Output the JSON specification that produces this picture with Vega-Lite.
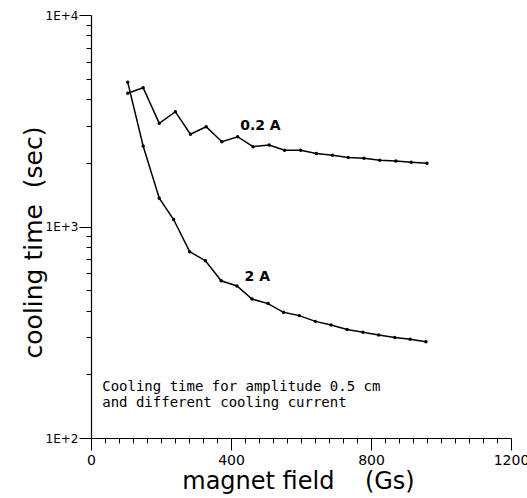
{
  "$schema": "https://vega.github.io/schema/vega-lite/v6.json",
  "width": 420,
  "height": 423,
  "autosize": {"type": "none"},
  "padding": {"left": 91, "top": 15, "right": 16, "bottom": 60},
  "background": "white",
  "config": {
    "view": {"stroke": null},
    "font": "DejaVu Sans",
    "axis": {
      "domainColor": "black",
      "domainWidth": 1.2,
      "tickColor": "black",
      "tickWidth": 1,
      "labelColor": "black",
      "titleColor": "black",
      "labelFont": "DejaVu Sans",
      "titleFont": "DejaVu Sans",
      "grid": false
    }
  },
  "layer": [
    {
      "data": {
        "values": [
          {"field": 105, "time": 4266, "current": "0.2 A"},
          {"field": 149, "time": 4531, "current": "0.2 A"},
          {"field": 195, "time": 3076, "current": "0.2 A"},
          {"field": 241, "time": 3490, "current": "0.2 A"},
          {"field": 284, "time": 2729, "current": "0.2 A"},
          {"field": 329, "time": 2963, "current": "0.2 A"},
          {"field": 374, "time": 2518, "current": "0.2 A"},
          {"field": 419, "time": 2658, "current": "0.2 A"},
          {"field": 463, "time": 2384, "current": "0.2 A"},
          {"field": 509, "time": 2428, "current": "0.2 A"},
          {"field": 553, "time": 2293, "current": "0.2 A"},
          {"field": 599, "time": 2296, "current": "0.2 A"},
          {"field": 644, "time": 2215, "current": "0.2 A"},
          {"field": 690, "time": 2174, "current": "0.2 A"},
          {"field": 735, "time": 2120, "current": "0.2 A"},
          {"field": 780, "time": 2103, "current": "0.2 A"},
          {"field": 825, "time": 2058, "current": "0.2 A"},
          {"field": 871, "time": 2040, "current": "0.2 A"},
          {"field": 915, "time": 2012, "current": "0.2 A"},
          {"field": 960, "time": 1990, "current": "0.2 A"},
          {"field": 105, "time": 4806, "current": "2 A"},
          {"field": 149, "time": 2402, "current": "2 A"},
          {"field": 195, "time": 1360, "current": "2 A"},
          {"field": 236, "time": 1079, "current": "2 A"},
          {"field": 282, "time": 760, "current": "2 A"},
          {"field": 327, "time": 689, "current": "2 A"},
          {"field": 372, "time": 554, "current": "2 A"},
          {"field": 417, "time": 523, "current": "2 A"},
          {"field": 460, "time": 454, "current": "2 A"},
          {"field": 506, "time": 432, "current": "2 A"},
          {"field": 550, "time": 393, "current": "2 A"},
          {"field": 595, "time": 379, "current": "2 A"},
          {"field": 641, "time": 356, "current": "2 A"},
          {"field": 686, "time": 342, "current": "2 A"},
          {"field": 732, "time": 326, "current": "2 A"},
          {"field": 777, "time": 316, "current": "2 A"},
          {"field": 822, "time": 307, "current": "2 A"},
          {"field": 868, "time": 299, "current": "2 A"},
          {"field": 912, "time": 293, "current": "2 A"},
          {"field": 957, "time": 285, "current": "2 A"}
        ]
      },
      "encoding": {
        "x": {
          "field": "field", "type": "quantitative",
          "scale": {"domain": [0, 1200], "nice": false},
          "axis": {
            "title": "magnet field\u00a0\u00a0\u00a0\u00a0(Gs)",
            "titleFontSize": 24,
            "titleFontWeight": "normal",
            "titleX": 207,
            "titleY": 50,
            "titleBaseline": "alphabetic",
            "titleAlign": "center",
            "values": [0,40,80,120,160,200,240,280,320,360,400,440,480,520,560,600,640,680,720,760,800,840,880,920,960,1000,1040,1080,1120,1160,1200],
            "tickCount": 200,
            "labelExpr": "datum.value % 400 === 0 ? format(datum.value, 'd') : ''",
            "labelOverlap": false,
            "labelFontSize": 14,
            "labelPadding": 3,
            "labelFlush": false,
            "tickSize": {"condition": {"test": "datum.value % 400 === 0", "value": 12}, "value": 5}
          }
        },
        "y": {
          "field": "time", "type": "quantitative",
          "scale": {"type": "log", "domain": [100, 10000], "nice": false},
          "axis": {
            "title": "cooling time\u00a0\u00a0(sec)",
            "titleFontSize": 25,
            "titleFontWeight": "normal",
            "titleAngle": -90,
            "titleX": -50,
            "titleY": 227,
            "titleBaseline": "alphabetic",
            "titleAlign": "center",
            "values": [100,200,300,400,500,600,700,800,900,1000,2000,3000,4000,5000,6000,7000,8000,9000,10000],
            "tickCount": 200,
            "labelExpr": "datum.value == 100 ? '1E+2' : datum.value == 1000 ? '1E+3' : datum.value == 10000 ? '1E+4' : ''",
            "labelOverlap": false,
            "labelFontSize": 12,
            "labelPadding": 1,
            "labelFlush": false,
            "tickSize": {"condition": {"test": "datum.value == 100 || datum.value == 1000 || datum.value == 10000", "value": 12}, "value": 5}
          }
        }
      },
      "layer": [
        {
          "mark": {"type": "line", "color": "black", "strokeWidth": 1.5},
          "encoding": {"detail": {"field": "current"}}
        },
        {
          "mark": {"type": "circle", "color": "black", "size": 12, "opacity": 1},
          "encoding": {}
        }
      ]
    },
    {
      "data": {"values": [{}]},
      "mark": {"type": "text", "fontWeight": "bold", "fontSize": 14, "align": "center", "baseline": "middle", "color": "black"},
      "encoding": {
        "x": {"datum": 484},
        "y": {"datum": 2987},
        "text": {"value": "0.2 A"}
      }
    },
    {
      "data": {"values": [{}]},
      "mark": {"type": "text", "fontWeight": "bold", "fontSize": 14, "align": "center", "baseline": "middle", "color": "black"},
      "encoding": {
        "x": {"datum": 475},
        "y": {"datum": 577},
        "text": {"value": "2 A"}
      }
    },
    {
      "data": {"values": [{}]},
      "mark": {"type": "text", "font": "DejaVu Sans Mono", "fontSize": 14, "align": "left", "baseline": "middle", "color": "black", "lineHeight": 16},
      "encoding": {
        "x": {"datum": 32},
        "y": {"datum": 174},
        "text": {"value": ["Cooling time for amplitude 0.5 cm", "and different cooling current"]}
      }
    }
  ]
}
